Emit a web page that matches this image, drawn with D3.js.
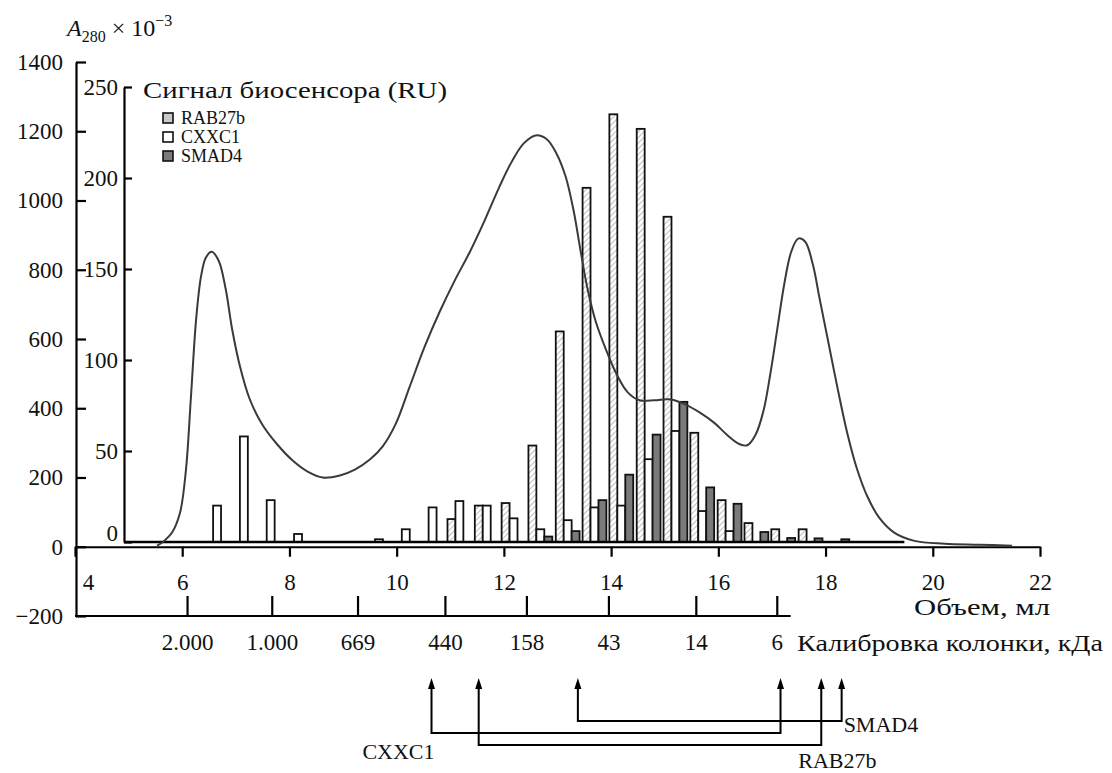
<!DOCTYPE html>
<html>
<head>
<meta charset="utf-8">
<script src="https://cdn.jsdelivr.net/npm/d3@7"></script>
<style>
  body { margin: 0; background: #fff; }
  svg text { font-family: "Liberation Serif", "Times New Roman", serif; fill: #111; }
</style>
</head>
<body>
<div id="container"></div>
<script>
// Size of the SVG container
const width = 1112;
const height = 773;
const serif = "'Liberation Serif', 'Times New Roman', serif";

// Fraction volumes (ml) and biosensor signal (RU) per protein
const fractions = [6.65, 7.15, 7.65, 8.16, 8.66, 9.16, 9.67, 10.17, 10.67, 11.17, 11.68, 12.18,
                   12.68, 13.19, 13.69, 14.19, 14.70, 15.20, 15.70, 16.21, 16.71, 17.21, 17.72, 18.22];
const rab27b = [0, 0, 0, 0, 0, 0, 0, 0, 0, 12.6, 20, 21.4, 53, 115.7, 194.6, 235, 227, 178.7, 60, 23, 10.4, 7, 7, 0];
const cxxc1  = [20, 58, 23, 4.4, 0, 0, 1.5, 7, 19, 22.5, 20, 13, 7, 12, 19, 20, 45.5, 61, 17, 6, 0, 0, 0, 0];
const smad4  = [0, 0, 0, 0, 0, 0, 0, 0, 0, 0, 0, 0, 3, 6, 23, 37, 59, 77, 30, 21, 5.5, 2.2, 2, 1.5];
const seriesNames = ["RAB27b", "CXXC1", "SMAD4"];

// A280 elution profile: volume (ml) and absorbance (x 10^-3)
const curveVolume = [5.53, 5.64, 5.81, 5.96, 6.07, 6.16, 6.26, 6.35, 6.44, 6.55, 6.68, 6.81, 6.93, 7.08,
                     7.26, 7.49, 7.77, 8.06, 8.34, 8.62, 8.94, 9.22, 9.50, 9.74, 9.98, 10.24, 10.52,
                     10.80, 11.08, 11.36, 11.64, 11.92, 12.15, 12.37, 12.59, 12.80, 12.98, 13.15, 13.30,
                     13.43, 13.56, 13.71, 13.90, 14.10, 14.31, 14.53, 14.81, 15.09, 15.37, 15.65, 15.93,
                     16.17, 16.40, 16.54, 16.69, 16.84, 16.97, 17.10, 17.23, 17.36, 17.49, 17.62, 17.76,
                     17.89, 18.04, 18.22, 18.41, 18.59, 18.78, 19.00, 19.28, 19.66, 20.22, 20.87, 21.48];
const curveA280 = [3, 14, 41, 99, 223, 426, 658, 780, 835, 852, 826, 745, 629, 519,
                   426, 354, 296, 249, 217, 200, 206, 223, 252, 290, 354, 461, 577,
                   678, 768, 850, 942, 1041, 1113, 1165, 1188, 1177, 1136, 1070, 971,
                   855, 745, 652, 571, 499, 446, 423, 423, 426, 412, 388, 357,
                   322, 296, 293, 322, 391, 499, 629, 759, 852, 890, 881, 817,
                   716, 600, 461, 325, 223, 145, 84, 41, 17, 9, 6, 3];

// Axis ticks
const a280Ticks = [-200, 0, 200, 400, 600, 800, 1000, 1200, 1400];
const ruTicks = [0, 50, 100, 150, 200, 250];
const volumeTicks = [4, 6, 8, 10, 12, 14, 16, 18, 20, 22];

// Column calibration: elution volume (ml) of each standard and its label (kDa)
const calibVolume = [6.09, 7.67, 9.27, 10.90, 12.42, 13.95, 15.58, 17.09];
const calibLabels = ["2.000", "1.000", "669", "440", "158", "43", "14", "6"];
const calibEnd = 17.35;

// Elution positions marked with arrows (ml)
const arrowNames = ["CXXC1", "RAB27b", "SMAD4"];
const arrowFrom = [10.65, 11.53, 13.38];
const arrowTo = [17.16, 17.92, 18.30];

const svg = d3.select("#container")
    .append("svg")
    .attr("width", width)
    .attr("height", height);

// Hatch pattern for RAB27b bars
const defs = svg.append("defs");
const hatch = defs.append("pattern")
    .attr("id", "hatch")
    .attr("patternUnits", "userSpaceOnUse")
    .attr("width", 4)
    .attr("height", 4)
    .attr("patternTransform", "rotate(45)");
hatch.append("rect").attr("width", 4).attr("height", 4).attr("fill", "#fff");
hatch.append("line")
    .attr("x1", 0).attr("y1", 0).attr("x2", 0).attr("y2", 4)
    .attr("stroke", "#9a9a9a")
    .attr("stroke-width", 1.3);

const fills = { "RAB27b": "url(#hatch)", "CXXC1": "#fff", "SMAD4": "#7a7a7a" };

// Scales
const x = d3.scaleLinear().domain([4, 22]).range([75, 1040]);
const yA = d3.scaleLinear().domain([-200, 1400]).range([616, 62]);
const yR = d3.scaleLinear().domain([0, 250]).range([542, 87]);

// Helper to style axis groups
function styleAxis(g, size) {
    g.attr("font-family", serif).attr("font-size", size);
    g.selectAll("path, line").attr("stroke", "#000").attr("stroke-width", 2.2);
    g.selectAll("text").attr("fill", "#111").style("font-family", serif).style("font-size", size + "px");
}

// Outer A280 axis
svg.append("g")
    .attr("transform", `translate(${x(4) + 1},0)`)
    .call(d3.axisLeft(yA).tickValues(a280Ticks).tickFormat(d3.format("d"))
        .tickSizeInner(-10).tickSizeOuter(0).tickPadding(13))
    .call(g => styleAxis(g, 23));

// Inner biosensor axis
svg.append("g")
    .attr("transform", `translate(124,0)`)
    .call(d3.axisLeft(yR).tickValues(ruTicks).tickFormat(d3.format("d"))
        .tickSizeInner(-8).tickSizeOuter(0).tickPadding(6))
    .call(g => styleAxis(g, 23))
    .call(g => g.selectAll(".tick").filter(d => d === 0).select("text").attr("dy", "-0.05em"));

// Volume axis
svg.append("g")
    .attr("transform", `translate(0,${yA(0)})`)
    .call(d3.axisBottom(x).tickValues(volumeTicks).tickFormat(d3.format("d"))
        .tickSizeInner(10).tickSizeOuter(0).tickPadding(17))
    .call(g => styleAxis(g, 23))
    .call(g => g.selectAll(".tick").filter(d => d === 4).select("text").attr("dx", 13));

svg.append("text")
    .attr("x", 914)
    .attr("y", 607)
    .attr("dy", "0.35em")
    .attr("textLength", 136)
    .attr("lengthAdjust", "spacingAndGlyphs")
    .style("font-size", "23px")
    .text("Объем, мл");

// Calibration axis
const calib = svg.append("g")
    .attr("transform", `translate(0,${yA(-200)})`);
calib.append("line")
    .attr("x1", x(4)).attr("x2", x(calibEnd))
    .attr("stroke", "#000").attr("stroke-width", 2.2);
calib.call(d3.axisBottom(x).tickValues(calibVolume).tickSizeInner(-20).tickSizeOuter(0).tickPadding(18)
        .tickFormat((d, i) => calibLabels[i]))
    .call(g => g.select(".domain").remove())
    .call(g => styleAxis(g, 23));

svg.append("text")
    .attr("x", 797)
    .attr("y", 643)
    .attr("dy", "0.35em")
    .attr("textLength", 306)
    .attr("lengthAdjust", "spacingAndGlyphs")
    .style("font-size", "23px")
    .text("Калибровка колонки, кДа");

// Axis title for A280
const title = svg.append("text")
    .attr("x", 67)
    .attr("y", 36)
    .style("font-size", "24px");
title.append("tspan").style("font-style", "italic").text("A");
title.append("tspan").attr("dy", 6).style("font-size", "16px").text("280");
title.append("tspan").attr("dy", -6).text(" × 10");
title.append("tspan").attr("dy", -10).style("font-size", "16px").text("−3");

// Bars
const step = x(fractions[1]) - x(fractions[0]);
const barW = step * 8 / 27;
const bars = [];
fractions.forEach((v, i) => {
    [rab27b[i], cxxc1[i], smad4[i]].forEach((val, j) => {
        if (val > 0) bars.push({ v: v, j: j, name: seriesNames[j], value: val });
    });
});

svg.append("g")
    .selectAll("rect")
    .data(bars)
    .enter()
    .append("rect")
    .attr("x", d => x(d.v) - 1.5 * barW + d.j * barW)
    .attr("y", d => yR(d.value))
    .attr("width", barW)
    .attr("height", d => yR(0) - yR(d.value))
    .attr("fill", d => fills[d.name])
    .attr("stroke", "#111")
    .attr("stroke-width", 1.8);

// Biosensor baseline
svg.append("line")
    .attr("x1", 124).attr("x2", x(19.47))
    .attr("y1", yR(0)).attr("y2", yR(0))
    .attr("stroke", "#000").attr("stroke-width", 2.4);

// A280 curve
const lineGenerator = d3.line()
    .x((d, i) => x(curveVolume[i]))
    .y(d => yA(d))
    .curve(d3.curveCatmullRom.alpha(0.5));

svg.append("path")
    .datum(curveA280)
    .attr("fill", "none")
    .attr("stroke", "#3a3a3a")
    .attr("stroke-width", 2)
    .attr("d", lineGenerator);

// Legend
svg.append("text")
    .attr("x", 143)
    .attr("y", 90)
    .attr("dy", "0.35em")
    .attr("textLength", 304)
    .attr("lengthAdjust", "spacingAndGlyphs")
    .style("font-size", "24px")
    .text("Сигнал биосенсора (RU)");

const legend = svg.append("g")
    .attr("transform", `translate(163,118)`);
legend.selectAll("rect")
    .data(seriesNames)
    .enter()
    .append("rect")
    .attr("x", 0)
    .attr("y", (d, i) => i * 19 - 5)
    .attr("width", 10)
    .attr("height", 10)
    .attr("fill", d => d === "RAB27b" ? "#c8c8c8" : fills[d])
    .attr("stroke", "#111")
    .attr("stroke-width", 1.6);
legend.selectAll("text")
    .data(seriesNames)
    .enter()
    .append("text")
    .attr("x", 18)
    .attr("y", (d, i) => i * 19)
    .attr("dy", "0.35em")
    .style("font-size", "18px")
    .text(d => d);

// Arrows linking elution positions
const tipY = 678;
const levels = [733, 745, 721];
const arrows = svg.append("g");
arrowNames.forEach((name, i) => {
    const x1 = x(arrowFrom[i]);
    const x2 = x(arrowTo[i]);
    arrows.append("path")
        .attr("d", `M${x1},${tipY + 8}V${levels[i]}H${x2}V${tipY + 8}`)
        .attr("fill", "none")
        .attr("stroke", "#000")
        .attr("stroke-width", 2);
    [x1, x2].forEach(px => {
        arrows.append("path")
            .attr("d", `M${px},${tipY}L${px - 3.5},${tipY + 11}L${px + 3.5},${tipY + 11}Z`)
            .attr("fill", "#000");
    });
});

arrows.append("text")
    .attr("x", x(arrowFrom[0]) + 3).attr("y", 751).attr("dy", "0.35em")
    .attr("text-anchor", "end").style("font-size", "22px").text(arrowNames[0]);
arrows.append("text")
    .attr("x", x(arrowTo[1]) - 23).attr("y", 760).attr("dy", "0.35em")
    .style("font-size", "22px").text(arrowNames[1]);
arrows.append("text")
    .attr("x", x(arrowTo[2]) + 2).attr("y", 724).attr("dy", "0.35em")
    .style("font-size", "22px").text(arrowNames[2]);
</script>
</body>
</html>
